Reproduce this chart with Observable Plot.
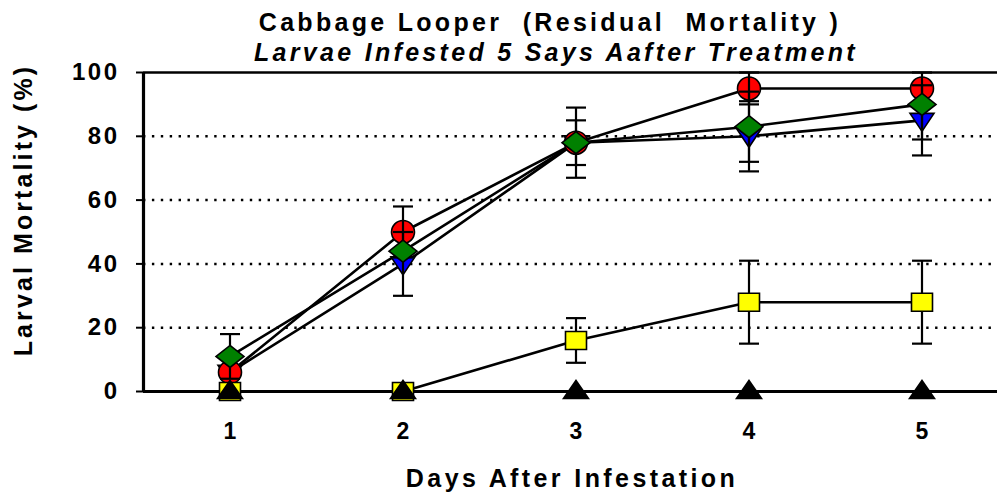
<!DOCTYPE html>
<html>
<head>
<meta charset="utf-8">
<script src="https://cdn.jsdelivr.net/npm/d3@7"></script>
<script src="https://cdn.jsdelivr.net/npm/@observablehq/plot@0.6"></script>
<style>
  html, body { margin: 0; padding: 0; background: #fff; overflow: hidden; }
  #wrap { position: relative; width: 997px; height: 498px; overflow: hidden; font-family: "Liberation Sans", Arial, sans-serif; }
  #chart { position: absolute; left: 0; top: 0; }
  #chart svg { max-width: none !important; }
  .t { position: absolute; white-space: nowrap; color: #000; font-weight: bold; line-height: 1; }
  #title1 { left: 550px; top: 10px; transform: translateX(-50%); font-size: 25px; letter-spacing: 3.3px; }
  #title2 { left: 556px; top: 40px; transform: translateX(-50%); font-size: 25px; letter-spacing: 3.3px; font-style: italic; }
  #xtitle { left: 572px; top: 466px; transform: translateX(-50%); font-size: 25px; letter-spacing: 3.4px; }
  #ytitle { left: 23px; top: 210px; transform: translate(-50%, -50%) rotate(-90deg); font-size: 25px; letter-spacing: 3.1px; }
  svg [aria-label="y-axis tick label"] text { letter-spacing: 2.5px; }
  svg [aria-label="x-axis tick label"] text { letter-spacing: 0px; }
</style>
</head>
<body>
<div id="wrap">
  <div id="chart"></div>
  <div class="t" id="title1">Cabbage Looper&nbsp; (Residual&nbsp; Mortality )</div>
  <div class="t" id="title2">Larvae Infested 5 Says Aafter Treatment</div>
  <div class="t" id="xtitle">Days After Infestation</div>
  <div class="t" id="ytitle">Larval Mortality (%)</div>
</div>
<script>
// ---- data ----
const days = [1, 2, 3, 4, 5];
const redValues    = [6, 50, 78, 95, 95];
const blueValues   = [6, 40, 78, 80, 85];
const greenValues  = [11, 44, 78, 83, 90];
const yellowValues = [0, 0, 16, 28, 28];
const blackValues  = [0, 0, 0, 0, 0];
const redErr    = [0, 8, 11, 5, 0];
const blueErr   = [0, 10, 7, 11, 11];
const greenErr  = [7, 0, 0, 11, 11];
const yellowErr = [0, 0, 7, 13, 13];
const blackErr  = [0, 0, 0, 0, 0];
const yTicks = [0, 20, 40, 60, 80, 100];
const gridLines = [20, 40, 60, 80];
const xTicks = [1, 2, 3, 4, 5];

// ---- marker shapes ----
const sym = (fn) => ({ draw(ctx) { fn(ctx); } });
const circleSym = sym(c => { c.moveTo(11.5, 0); c.arc(0, 0, 11.5, 0, 2 * Math.PI); c.closePath(); });
const diamondSym = sym(c => { c.moveTo(0, -11); c.lineTo(14, 0); c.lineTo(0, 11); c.lineTo(-14, 0); c.closePath(); });
const triDownSym = sym(c => { c.moveTo(-12, -7); c.lineTo(12, -7); c.lineTo(0, 11); c.closePath(); });
const triUpSym = sym(c => { c.moveTo(0, -11); c.lineTo(12.5, 7); c.lineTo(-12.5, 7); c.closePath(); });
const squareSym = sym(c => { c.rect(-10.5, -9, 21, 18); });
const capSym = sym(c => { c.moveTo(-10, 0); c.lineTo(10, 0); });

const mk = (name, vals, errs) => days.map((d, i) => ({ series: name, day: d, v: vals[i], e: errs[i] }));
const red = mk("red", redValues, redErr);
const blue = mk("blue", blueValues, blueErr);
const green = mk("green", greenValues, greenErr);
const yellow = mk("yellow", yellowValues, yellowErr);
const black = mk("black", blackValues, blackErr);
const all = [...yellow, ...black, ...red, ...blue, ...green];

const errMarks = (subset) => {
  const bars = subset.filter(d => d.e > 0);
  return [
    Plot.ruleX(bars, { x: "day", y1: d => d.v - d.e, y2: d => Math.min(100, d.v + d.e), stroke: "#000", strokeWidth: 2.2 }),
    Plot.dot(bars.flatMap(d => [{ day: d.day, y: d.v - d.e }, { day: d.day, y: Math.min(100, d.v + d.e) }]), { x: "day", y: "y", symbol: capSym, r: 5, stroke: "#000", strokeWidth: 2.2, fill: "none" })
  ];
};

const dotOpts = (symbol, fill) => ({ x: "day", y: "v", symbol, r: 5, fill, stroke: "#000", strokeWidth: 1.6 });

const plot = Plot.plot({
  width: 1008,
  height: 498,
  marginLeft: 143,
  marginRight: 0,
  marginTop: 72,
  marginBottom: 107,
  style: { fontFamily: "'Liberation Sans', Arial, sans-serif", background: "transparent", overflow: "visible", maxWidth: "none" },
  x: { domain: [0.5, 5.5] },
  y: { domain: [0, 100] },
  marks: [
    Plot.ruleY(gridLines, { stroke: "#000", strokeWidth: 2.5, strokeDasharray: "2.4,6.5" }),
    Plot.axisY({ ticks: yTicks, tickSize: 7, tickPadding: 17, tickFormat: d => String(d), fontSize: 24, fontWeight: "bold", stroke: "#000", strokeWidth: 2, color: "#000", label: null }),
    Plot.axisX({ ticks: xTicks, tickSize: 0, tickPadding: 31, tickFormat: d => String(d), fontSize: 23, fontWeight: "bold", color: "#000", label: null }),
    Plot.ruleY([100], { stroke: "#000", strokeWidth: 2.5 }),
    Plot.ruleY([0], { stroke: "#000", strokeWidth: 3.2 }),
    Plot.ruleX([0.5], { y1: 0, y2: 100, stroke: "#000", strokeWidth: 3.2 }),
    Plot.line(all, { x: "day", y: "v", z: "series", stroke: "#000", strokeWidth: 2.6 }),
    Plot.dot(blue, dotOpts(triDownSym, "#0000FF")),
    Plot.dot(red, dotOpts(circleSym, "#FF0000")),
    ...errMarks([...red, ...blue, ...green, ...yellow]),
    Plot.dot(green, dotOpts(diamondSym, "#008000")),
    Plot.dot(yellow, dotOpts(squareSym, "#FFFF00")),
    Plot.dot(black, dotOpts(triUpSym, "#000"))
  ]
});
document.getElementById("chart").appendChild(plot);
</script>
</body>
</html>
